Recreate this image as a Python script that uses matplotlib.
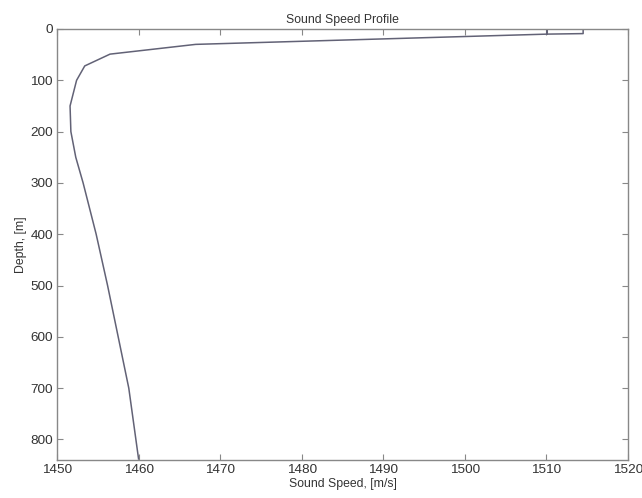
import numpy as np
import matplotlib
matplotlib.use('Agg')
import matplotlib.pyplot as plt

plt.rcParams['font.family'] = ['Liberation Sans', 'DejaVu Sans']

# sound speed profile (m/s vs m)
speed = [1514.5, 1514.5, 1510.1, 1510.1, 1510.1, 1467.0, 1456.5, 1453.4, 1452.4,
         1451.6, 1451.7, 1452.3, 1453.2, 1454.8, 1456.2, 1457.5, 1458.8, 1460.0]
depth = [0, 9, 10, 0, 10, 30, 49, 72, 100,
         150, 200, 250, 300, 400, 500, 600, 700, 838]

xticks = [1450, 1460, 1470, 1480, 1490, 1500, 1510, 1520]
yticks = [0, 100, 200, 300, 400, 500, 600, 700, 800]

fig = plt.figure(figsize=(6.42, 4.98), dpi=100)
ax = fig.add_axes([0.0888, 0.0763, 0.8894, 0.8655])

ax.plot(speed, depth, color='#626276', lw=1.1)

ax.set_xlim(1450, 1520)
ax.set_ylim(840, 0)
ax.set_xticks(xticks)
ax.set_yticks(yticks)

axcol = '#888888'
txtcol = '#333333'
for s in ax.spines.values():
    s.set_color(axcol)
    s.set_linewidth(1.0)
ax.tick_params(direction='in', length=4, color=axcol, labelcolor=txtcol,
               labelsize=9.7, top=True, right=True, pad=3)

ax.set_title('Sound Speed Profile', fontsize=8.8, color=txtcol, pad=4)
ax.set_xlabel('Sound Speed, [m/s]', fontsize=8.8, color=txtcol, labelpad=1)
ax.set_ylabel('Depth, [m]', fontsize=8.8, color=txtcol, labelpad=2)

fig.savefig('out.png', dpi=100)
